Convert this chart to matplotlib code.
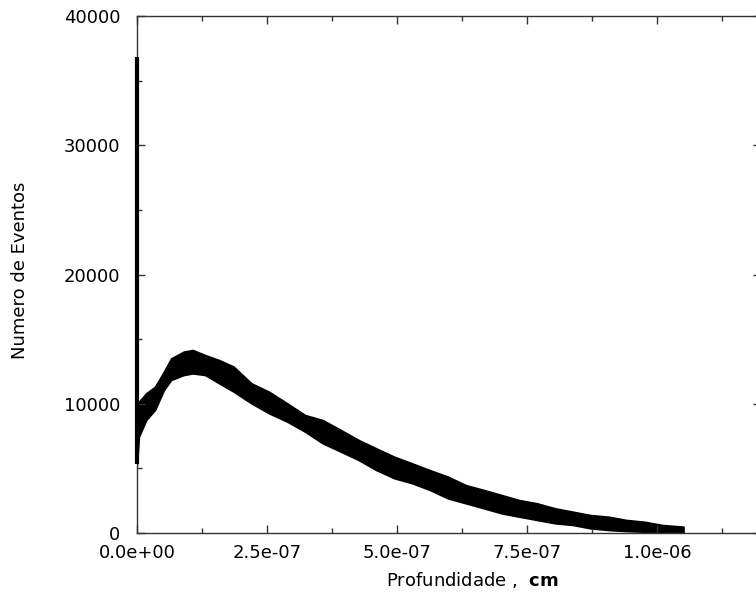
import matplotlib
matplotlib.use("Agg")
import matplotlib.pyplot as plt
from matplotlib.ticker import MultipleLocator, FuncFormatter

# depth (cm) positions where the band envelope was read
depth = [0.0, 3.7e-9, 1.76e-8, 3.46e-8, 5.17e-8, 6.56e-8, 8.96e-8, 1.07e-7, 1.31e-7,
         1.58e-7, 1.86e-7, 2.20e-7, 2.54e-7, 2.89e-7, 3.23e-7, 3.57e-7, 3.92e-7,
         4.26e-7, 4.60e-7, 4.95e-7, 5.29e-7, 5.63e-7, 5.98e-7, 6.32e-7, 6.67e-7,
         7.01e-7, 7.35e-7, 7.69e-7, 8.04e-7, 8.38e-7, 8.72e-7, 9.07e-7, 9.41e-7,
         9.76e-7, 1.01e-6, 1.051e-6]
# upper and lower envelope of the noisy event counts
upper = [10000, 10160, 10810, 11320, 12480, 13510, 14030, 14160, 13770,
         13380, 12870, 11580, 10930, 10030, 9130, 8740, 7970,
         7200, 6550, 5900, 5390, 4870, 4360, 3710, 3330,
         2940, 2550, 2300, 1910, 1650, 1390, 1260, 1010,
         870, 620, 490]
lower = [5300, 7450, 8740, 9520, 11060, 11840, 12220, 12350, 12220,
         11580, 10930, 10030, 9260, 8610, 7840, 6940, 6290,
         5650, 4870, 4230, 3850, 3330, 2680, 2300, 1910,
         1520, 1260, 1010, 750, 620, 360, 230, 150,
         100, 100, 20]
# spike at zero depth
spike_x = 0.0
spike_lo = 5300
spike_hi = 36800

xticks = [0.0, 2.5e-7, 5.0e-7, 7.5e-7, 1.0e-6]
yticks = [0, 10000, 20000, 30000, 40000]

plt.rcParams['font.family'] = ['DejaVu Sans']
fig = plt.figure(figsize=(7.56, 5.96), dpi=100)
ax = fig.add_axes([137/756, 1-533/596, (761-137)/756, (533-16)/596])

ax.fill_between(depth, lower, upper, color='black', linewidth=1.2, edgecolor='black')
ax.vlines(spike_x, spike_lo, spike_hi, color='black', linewidth=3.0, clip_on=False, zorder=5)

ax.set_xlim(0, 1.2e-6)
ax.set_ylim(0, 40000)
ax.set_xticks(xticks)
ax.set_yticks(yticks)
ax.xaxis.set_minor_locator(MultipleLocator(1.25e-7))
ax.yaxis.set_minor_locator(MultipleLocator(5000))
ax.xaxis.set_major_formatter(FuncFormatter(lambda v, p: f"{v:.1e}"))
ax.yaxis.set_major_formatter(FuncFormatter(lambda v, p: f"{int(round(v))}"))

for s in ax.spines.values():
    s.set_color('#333333')
    s.set_linewidth(1.0)
ax.tick_params(which='both', direction='in', top=True, right=True, color='#333333', width=1.0)
ax.tick_params(which='major', length=6)
ax.tick_params(which='minor', length=3.5)
ax.tick_params(axis='y', which='major', pad=12, labelsize=13)
ax.tick_params(axis='x', which='major', pad=8, labelsize=13)

fig.text(20/756, 1-270/596, "Numero de Eventos", rotation=90, ha='center', va='center', fontsize=13)
fig.text(472/756, 1-580/596, r"Profundidade ,  $\mathbf{cm}$", ha='center', va='center', fontsize=13)

fig.savefig("out.png", dpi=100)
